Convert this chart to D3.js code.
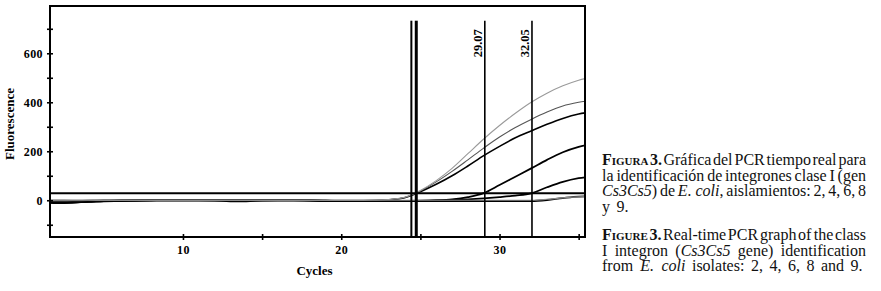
<!DOCTYPE html>
<html>
<head>
<meta charset="utf-8">
<script src="https://cdn.jsdelivr.net/npm/d3@7"></script>
<style>
    body { margin: 0; background: #fff; }
    svg { display: block; }
    .axis text { font-family: "Liberation Serif", "Times New Roman", serif; font-weight: bold; font-size: 12px; letter-spacing: 0.4px; fill: #000; }
    .title { font-family: "Liberation Serif", "Times New Roman", serif; font-weight: bold; font-size: 13px; fill: #000; }
    .caption { font-family: "Liberation Serif", "Times New Roman", serif; font-size: 16px; fill: #111; }
</style>
</head>
<body>
<div id="chart"></div>
<script>
// amplification curves, fluorescence per cycle (cycles 1..36)
const cycles = [1, 2, 3, 4, 5, 6, 7, 8, 9, 10, 11, 12, 13, 14, 15, 16, 17, 18,
    19, 20, 21, 22, 23, 24, 25, 26, 27, 28, 29, 30, 31, 32, 33, 34, 35, 36];

const sampleA = [2, 2, 1, 1, 0, 0, 0, 0, 0, 0, 0, 0, 0, 0, 0, 0, 0, 0,
    0, 0, 0, 1, 3, 12, 40, 80, 130, 190, 250, 305, 355, 400, 437, 467, 490, 505];
const sampleB = [-3, -3, -2, -1, 0, 0, 0, 0, 0, 0, 0, 0, 0, 0, 0, 0, 0, 0,
    0, 0, 0, 1, 3, 11, 38, 75, 118, 165, 213, 258, 297, 330, 360, 385, 400, 410];
const sampleC = [-10, -10, -9, -7, -4, -2, -1, 0, 0, 0, 0, 0, 0, 0, 0, 0, 0, 0,
    -1, -3, -3, -2, 2, 10, 35, 65, 100, 140, 182, 220, 255, 283, 310, 334, 352, 362];
const sampleD = [-6, -7, -8, -7, -4, -3, -2, -1, 0, 0, 0, -1, -4, -4, -1, 0, 0, -1,
    -2, -3, -3, -3, -3, -3, -2, 0, 4, 13, 29, 62, 96, 130, 165, 196, 218, 232];
const sampleE = [-4, -12, -11, -5, -3, -2, -1, 0, 0, 0, 0, 0, 0, 0, 0, 0, 0, 0,
    -2, -3, -3, -3, -3, -3, -3, -2, 1, 4, 8, 13, 19, 28, 53, 75, 90, 98];
const sampleF = [-8, -6, -4, -2, -1, 0, 0, 0, 0, 0, 0, 0, 0, 0, 0, 0, 0, -1,
    -3, -3, -3, -3, -3, -3, -3, -3, -3, -3, -3, -3, -3, -3, 1, 9, 15, 16];
const sampleG = [0, 0, 0, 0, 0, 0, 0, 0, 0, 0, 0, 0, 0, 0, 0, 0, 0, 0,
    0, 0, 0, 0, 0, 0, 0, 0, 0, 0, 0, 0, 0, 0, 4, 10, 14, 15];

const threshold = 28.6;
const ctValues = [24.43, 24.74, 29.07, 32.05];
const ctLabels = ["", "", "29.07", "32.05"];

const xTicks = [10, 15, 20, 25, 30, 35];
const xTickLabels = [10, 20, 30];
const yTicks = [-100, 0, 100, 200, 300, 400, 500, 600, 700];
const yTickLabels = [0, 200, 400, 600];

const captionParagraphs = [
    [
        "*Figura 3.* Gráfica del PCR tiempo real para",
        "la identificación de integrones clase I (gen",
        "_Cs3Cs5_) de _E. coli_, aislamientos: 2, 4, 6, 8",
        "y 9."
    ],
    [
        "*Figure 3.* Real-time PCR graph of the class",
        "I integron (_Cs3Cs5_ gene) identification",
        "from _E. coli_ isolates: 2, 4, 6, 8 and 9."
    ]
];

const W = 881, H = 291;
const margin = { top: 6, right: 296, bottom: 54, left: 50 };
const width = W - margin.left - margin.right;
const height = H - margin.top - margin.bottom;

const svg = d3.select("#chart").append("svg")
    .attr("width", W)
    .attr("height", H);

const chart = svg.append("g")
    .attr("transform", `translate(${margin.left},${margin.top})`);

const x = d3.scaleLinear().domain([1.6, 35.4]).range([0, width]);
const y = d3.scaleLinear().domain([-150, 793]).range([height, 0]);

svg.append("defs").append("clipPath")
    .attr("id", "plot-clip")
    .append("rect")
    .attr("width", width)
    .attr("height", height);

const plot = chart.append("g").attr("clip-path", "url(#plot-clip)");

// drawn black first so the grey traces sit on top, as in the original
const series = [
    { values: sampleF, color: "#000", w: 1.8 },
    { values: sampleE, color: "#000", w: 1.8 },
    { values: sampleD, color: "#000", w: 1.8 },
    { values: sampleC, color: "#000", w: 1.6 },
    { values: sampleG, color: "#8a8a8a", w: 1.2 },
    { values: sampleB, color: "#555", w: 1.1 },
    { values: sampleA, color: "#9a9a9a", w: 1.1 }
];

const line = d3.line()
    .x(d => x(d[0]))
    .y(d => y(d[1]))
    .curve(d3.curveMonotoneX);

plot.selectAll("path.trace")
    .data(series)
    .join("path")
    .attr("class", "trace")
    .attr("fill", "none")
    .attr("stroke", d => d.color)
    .attr("stroke-width", d => d.w)
    .attr("d", d => line(cycles.map((c, i) => [c, d.values[i]])));

// threshold
plot.append("line")
    .attr("x1", 0).attr("x2", width)
    .attr("y1", y(threshold)).attr("y2", y(threshold))
    .attr("stroke", "#000")
    .attr("stroke-width", 2);

// Ct markers
const ctTop = 733;
const ctWidths = [2, 3, 1.6, 1.6];
plot.selectAll("line.ct")
    .data(ctValues)
    .join("line")
    .attr("class", "ct")
    .attr("x1", d => x(d)).attr("x2", d => x(d))
    .attr("y1", y(ctTop)).attr("y2", height)
    .attr("stroke", "#000")
    .attr("stroke-width", (d, i) => ctWidths[i]);

chart.selectAll("text.ct-label")
    .data(ctValues.map((v, i) => ({ v, label: ctLabels[i] })).filter(d => d.label))
    .join("text")
    .attr("class", "title")
    .attr("text-anchor", "end")
    .attr("transform", d => `translate(${x(d.v) - 2.5},${y(ctTop) + 8.5}) rotate(-90)`)
    .style("font-size", "12.5px")
    .text(d => d.label);

// axes
const yAxis = d3.axisLeft(y)
    .tickValues(yTicks)
    .tickFormat(d => yTickLabels.includes(d) ? d : "")
    .tickSizeInner(3)
    .tickSizeOuter(0)
    .tickPadding(4);

const gy = chart.append("g").attr("class", "axis").call(yAxis);
gy.select(".domain").remove();
gy.selectAll(".tick line").attr("x1", 3).attr("x2", -3).attr("stroke-width", 1.6);

const xAxis = d3.axisBottom(x)
    .tickValues(xTicks)
    .tickFormat(d => xTickLabels.includes(d) ? d : "")
    .tickSizeInner(3)
    .tickSizeOuter(0)
    .tickPadding(5);

const gx = chart.append("g")
    .attr("class", "axis")
    .attr("transform", `translate(0,${height})`)
    .call(xAxis);
gx.select(".domain").remove();
gx.selectAll(".tick line").attr("y1", -3).attr("y2", 3).attr("stroke-width", 1.6);

chart.append("rect")
    .attr("width", width)
    .attr("height", height)
    .attr("fill", "none")
    .attr("stroke", "#000")
    .attr("stroke-width", 2);

chart.append("text")
    .attr("class", "title")
    .attr("text-anchor", "middle")
    .attr("x", width / 2 - 3)
    .attr("y", height + 38)
    .text("Cycles");

chart.append("text")
    .attr("class", "title")
    .attr("text-anchor", "middle")
    .attr("transform", `translate(${14 - margin.left},${118}) rotate(-90)`)
    .text("Fluorescence");

// caption, justified word by word
const capLeft = 602, capRight = 866, lineStep = 15.7;
const paraTop = [165, 240];

function parseWords(str) {
    let italic = false, sc = false;
    return str.split(" ").map(word => {
        const runs = [];
        let cur = "";
        const push = () => { if (cur) runs.push({ t: cur, italic, sc }); cur = ""; };
        for (const ch of word) {
            if (ch === "_") { push(); italic = !italic; }
            else if (ch === "*") { push(); sc = !sc; }
            else cur += ch;
        }
        push();
        return runs;
    });
}

const cap = svg.append("g").attr("class", "caption");

captionParagraphs.forEach((para, p) => {
    para.forEach((str, li) => {
        const baseY = paraTop[p] + li * lineStep;
        const justify = li < para.length - 1;
        const words = parseWords(str).map(runs => {
            const t = cap.append("text").attr("y", baseY);
            runs.forEach(r => {
                t.append("tspan")
                    .style("font-style", r.italic ? "italic" : "normal")
                    .style("font-variant", r.sc ? "small-caps" : "normal")
                    .style("font-weight", r.sc ? "bold" : "normal")
                    .text(r.t);
            });
            return { node: t, w: t.node().getBBox().width };
        });
        const total = d3.sum(words, d => d.w);
        const gap = justify && words.length > 1
            ? (capRight - capLeft - total) / (words.length - 1)
            : 6.5;
        let cx = capLeft;
        words.forEach(wd => {
            wd.node.attr("x", cx);
            cx += wd.w + gap;
        });
    });
});
</script>
</body>
</html>
